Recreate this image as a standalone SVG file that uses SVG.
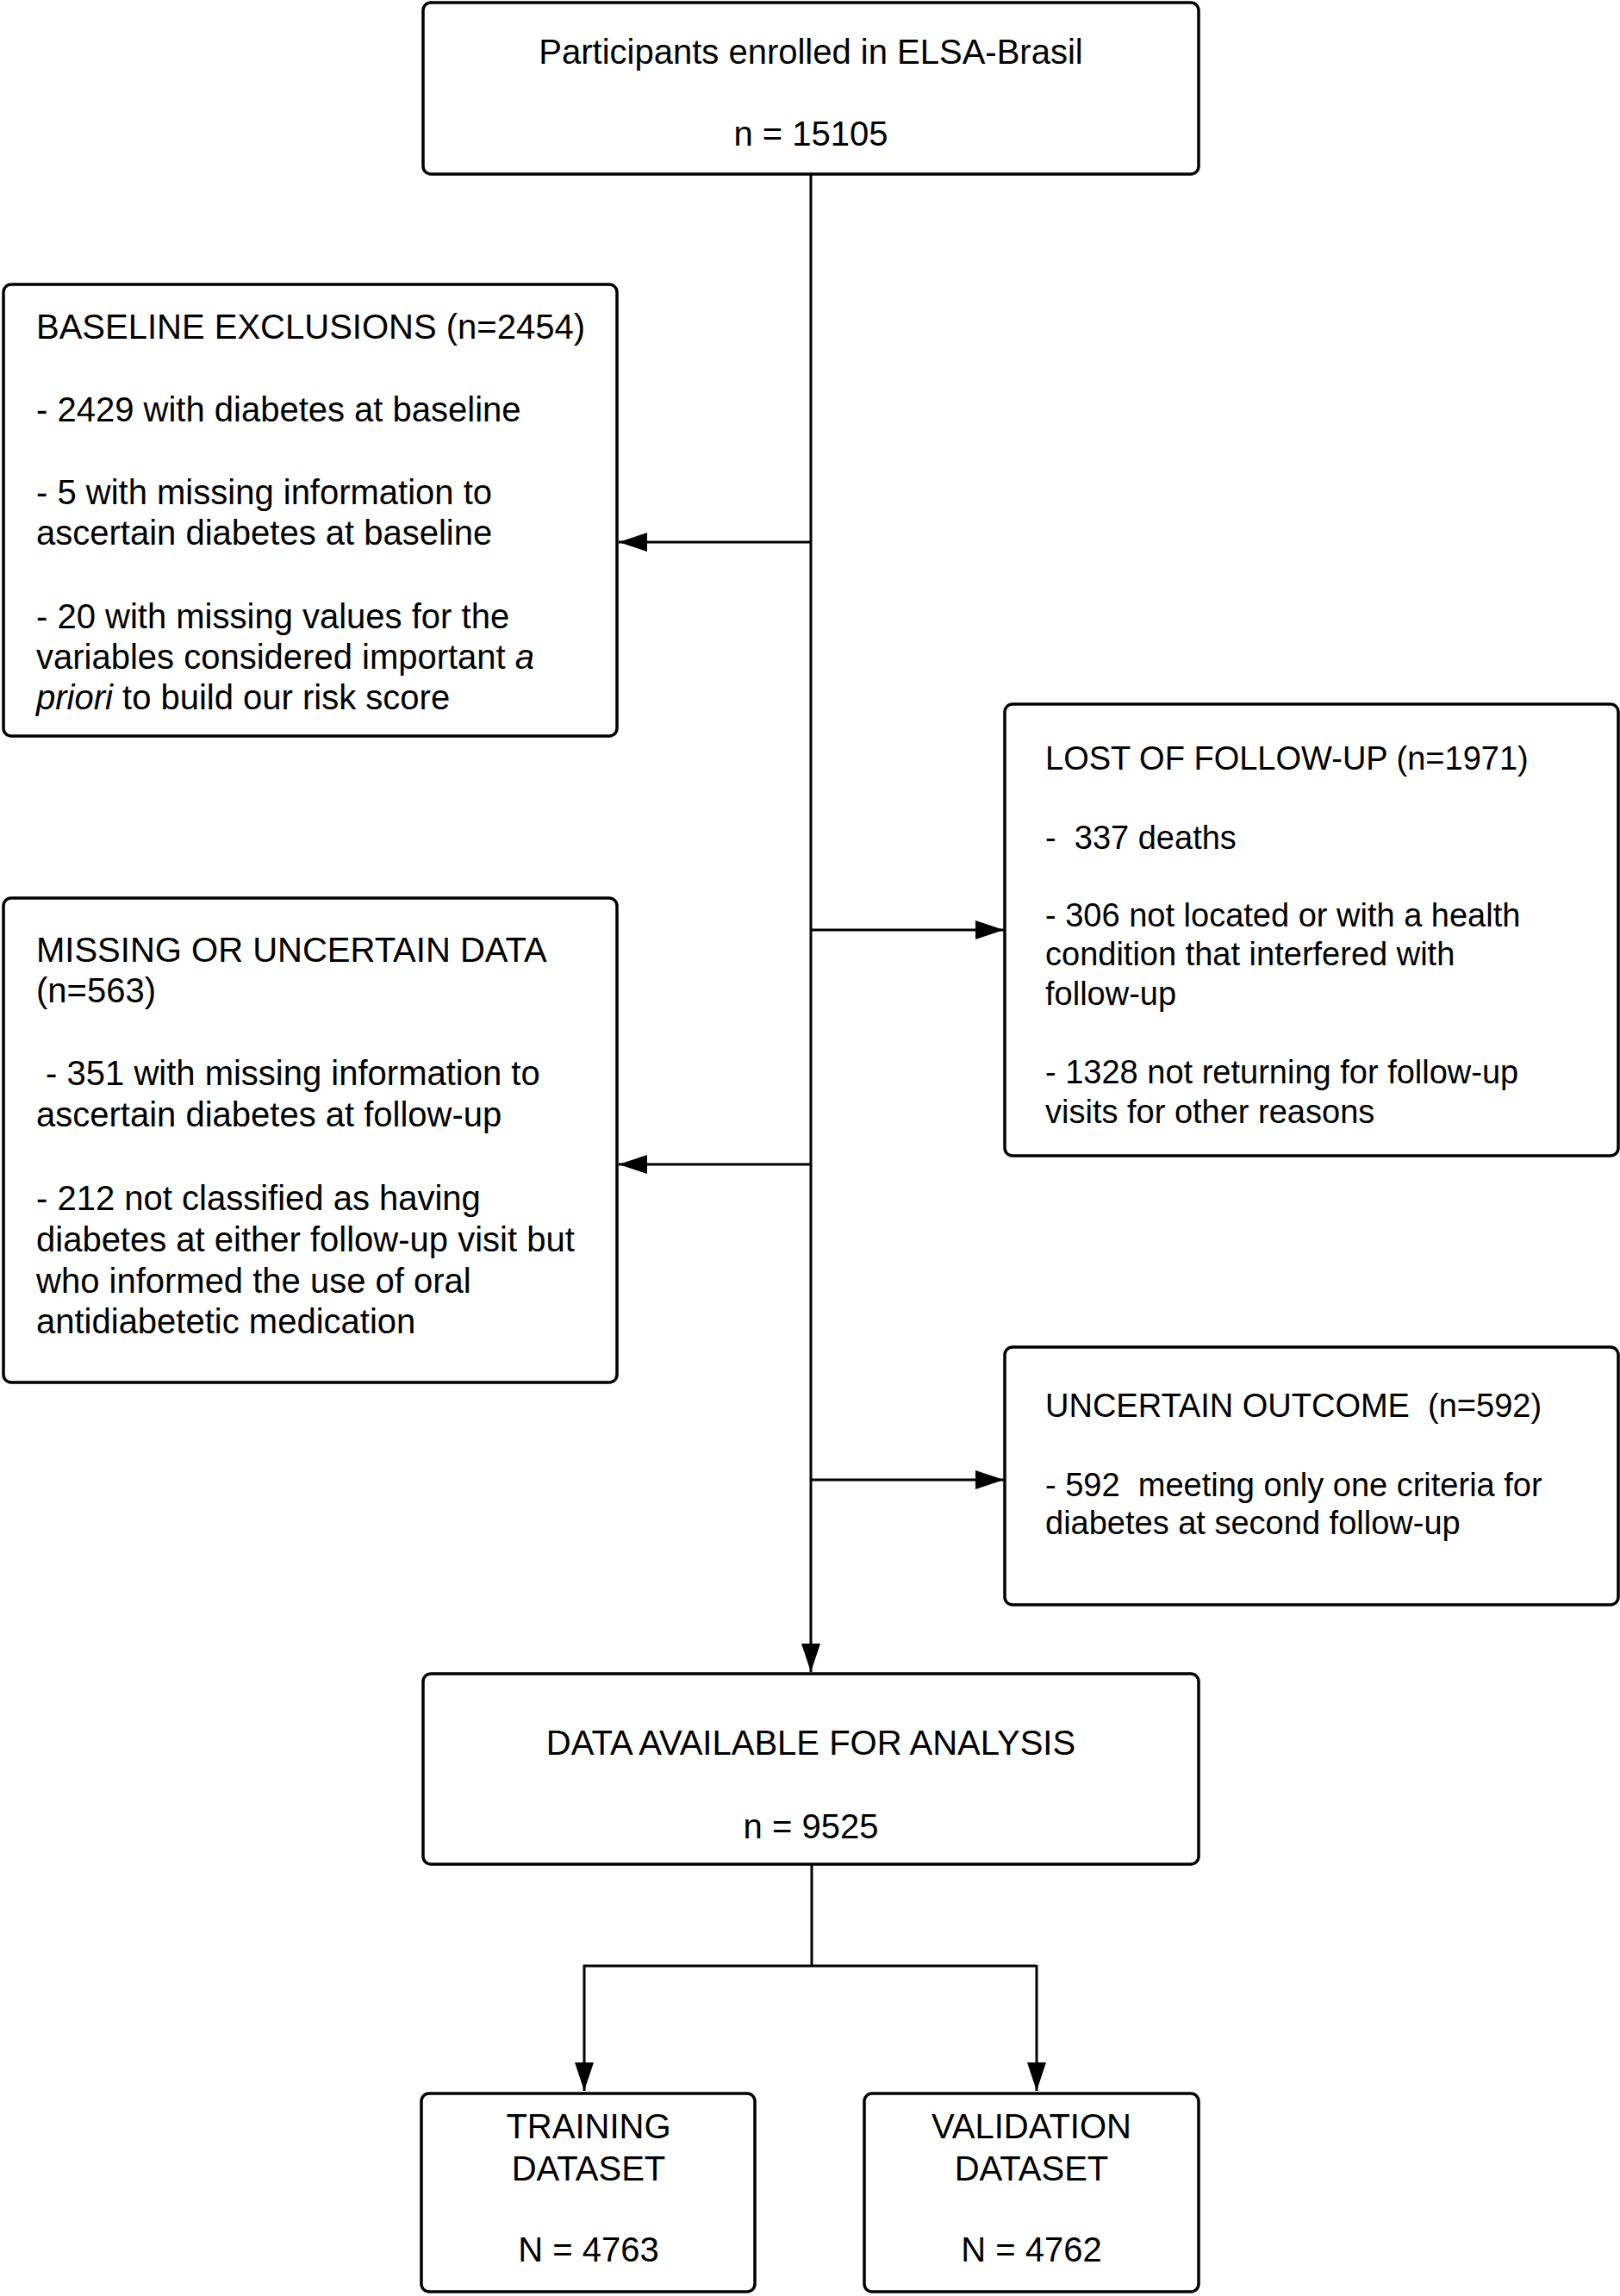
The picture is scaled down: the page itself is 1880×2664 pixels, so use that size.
<svg xmlns="http://www.w3.org/2000/svg" width="1880" height="2664" viewBox="0 0 1880 2664">
<style>
.box{fill:#fff;stroke:#000;stroke-width:3.5}
.t{font-family:"Liberation Sans",Arial,sans-serif;font-size:40px;fill:#000;white-space:pre}
.s{font-size:38px}
.c{text-anchor:middle}
.ln{fill:none;stroke:#000;stroke-width:3}
</style>
<defs>
<marker id="ah" markerUnits="userSpaceOnUse" markerWidth="34" markerHeight="24" viewBox="0 0 34 24" refX="33" refY="12" orient="auto">
<path d="M0,1 L33,12 L0,23 Z" fill="#000"/>
</marker>
</defs>
<g id="connectors">
<path class="ln" d="M941,202 V1940" marker-end="url(#ah)"/>
<path class="ln" d="M941,629 H718" marker-end="url(#ah)"/>
<path class="ln" d="M941,1079 H1165" marker-end="url(#ah)"/>
<path class="ln" d="M941,1351 H718" marker-end="url(#ah)"/>
<path class="ln" d="M941,1717 H1165" marker-end="url(#ah)"/>
<path class="ln" d="M942,2163 V2281"/>
<path class="ln" d="M677,2281 H1203"/>
<path class="ln" d="M678,2280 V2426" marker-end="url(#ah)"/>
<path class="ln" d="M1203,2280 V2426" marker-end="url(#ah)"/>
</g>
<g id="n-enrolled">
<rect class="box" x="491" y="3" width="900" height="199" rx="9"/>
<text class="t c" x="941" y="74">Participants enrolled in ELSA-Brasil</text>
<text class="t c" x="941" y="169">n = 15105</text>
</g>
<g id="n-baseline">
<rect class="box" x="4" y="330" width="712" height="524" rx="9"/>
<text class="t" x="42" y="393">BASELINE EXCLUSIONS (n=2454)</text>
<text class="t" x="42" y="489">- 2429 with diabetes at baseline</text>
<text class="t" x="42" y="585">- 5 with missing information to</text>
<text class="t" x="42" y="632">ascertain diabetes at baseline</text>
<text class="t" x="42" y="729">- 20 with missing values for the</text>
<text class="t" x="42" y="776">variables considered important <tspan font-style="italic">a</tspan></text>
<text class="t" x="42" y="823"><tspan font-style="italic">priori</tspan> to build our risk score</text>
</g>
<g id="n-lost">
<rect class="box" x="1166" y="817" width="712" height="524" rx="9"/>
<text class="t s" x="1213" y="893">LOST OF FOLLOW-UP (n=1971)</text>
<text class="t s" x="1213" y="985">-  337 deaths</text>
<text class="t s" x="1213" y="1075">- 306 not located or with a health</text>
<text class="t s" x="1213" y="1120">condition that interfered with</text>
<text class="t s" x="1213" y="1166">follow-up</text>
<text class="t s" x="1213" y="1257">- 1328 not returning for follow-up</text>
<text class="t s" x="1213" y="1303">visits for other reasons</text>
</g>
<g id="n-missing">
<rect class="box" x="4" y="1042" width="712" height="562" rx="9"/>
<text class="t" x="42" y="1116">MISSING OR UNCERTAIN DATA</text>
<text class="t" x="42" y="1163">(n=563)</text>
<text class="t" x="42" y="1259"> - 351 with missing information to</text>
<text class="t" x="42" y="1307">ascertain diabetes at follow-up</text>
<text class="t" x="42" y="1404">- 212 not classified as having</text>
<text class="t" x="42" y="1452">diabetes at either follow-up visit but</text>
<text class="t" x="42" y="1500">who informed the use of oral</text>
<text class="t" x="42" y="1547">antidiabetetic medication</text>
</g>
<g id="n-uncertain">
<rect class="box" x="1166" y="1563" width="712" height="299" rx="9"/>
<text class="t s" x="1213" y="1644">UNCERTAIN OUTCOME  (n=592)</text>
<text class="t s" x="1213" y="1736">- 592  meeting only one criteria for</text>
<text class="t s" x="1213" y="1780">diabetes at second follow-up</text>
</g>
<g id="n-data">
<rect class="box" x="491" y="1942" width="900" height="221" rx="9"/>
<text class="t c" x="941" y="2036">DATA AVAILABLE FOR ANALYSIS</text>
<text class="t c" x="941" y="2133">n = 9525</text>
</g>
<g id="n-training">
<rect class="box" x="489" y="2429" width="387" height="230" rx="9"/>
<text class="t c" x="683" y="2481">TRAINING</text>
<text class="t c" x="683" y="2530">DATASET</text>
<text class="t c" x="683" y="2624">N = 4763</text>
</g>
<g id="n-validation">
<rect class="box" x="1003" y="2429" width="388" height="230" rx="9"/>
<text class="t c" x="1197" y="2481">VALIDATION</text>
<text class="t c" x="1197" y="2530">DATASET</text>
<text class="t c" x="1197" y="2624">N = 4762</text>
</g>
</svg>
